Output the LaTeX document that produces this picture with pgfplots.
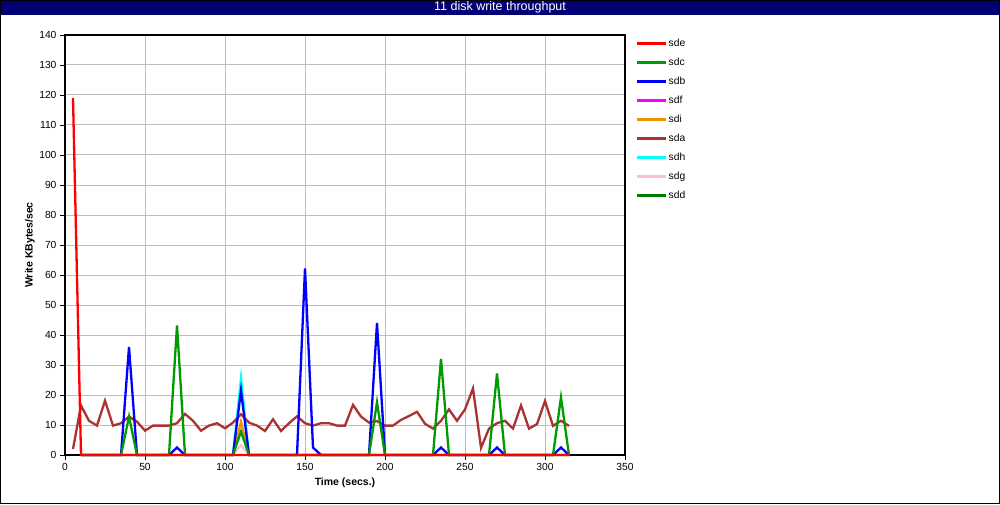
\documentclass[border=0pt]{standalone}
\usepackage{fontspec}
\setmainfont{Liberation Sans}
\usepackage{pgfplots}
\pgfplotsset{compat=1.18}
\definecolor{cSde}{RGB}{255,0,0}
\definecolor{cSdc}{RGB}{0,155,0}
\definecolor{cSdb}{RGB}{0,0,255}
\definecolor{cSdf}{RGB}{255,0,255}
\definecolor{cSdi}{RGB}{235,150,0}
\definecolor{cSda}{RGB}{170,50,50}
\definecolor{cSdh}{RGB}{0,255,255}
\definecolor{cSdg}{RGB}{255,192,203}
\definecolor{cSdd}{RGB}{0,125,0}
\definecolor{navybar}{RGB}{0,0,115}
\definecolor{gridgray}{RGB}{190,190,190}
\begin{document}
\begin{tikzpicture}[x=1pt,y=1pt]
\fill[white] (0,0) rectangle (1000,504);
\fill[navybar] (0,489) rectangle (1000,504);
\node[white, font=\fontsize{12.5}{14}\selectfont, anchor=center] at (500,496.5) {11 disk write throughput};
\begin{axis}[
  at={(65pt,49pt)}, anchor=south west,
  scale only axis, width=560pt, height=420pt,
  xmin=0, xmax=350, ymin=0, ymax=140,
  xtick={0,50,...,350}, ytick={0,10,...,140},
  tick align=outside, xtick pos=bottom, ytick pos=left,
  major tick length=5pt,
  tick style={black, line width=0.9pt},
  axis line style={black, line width=1.2pt},
  grid=major, major grid style={gridgray, line width=1pt},
  ticklabel style={font=\fontsize{10.3}{12}\selectfont},
  /pgf/number format/assume math mode=true,
  xlabel={Time (secs.)}, ylabel={Write KBytes/sec},
  every axis x label/.style={at={(axis description cs:0.5,-0.0667)}, anchor=center, font=\bfseries\fontsize{10.5}{12}\selectfont},
  every axis y label/.style={at={(axis description cs:-0.0625,0.5)}, rotate=90, anchor=center, font=\bfseries\fontsize{10.5}{12}\selectfont},
  clip=false,
  reverse legend,
  legend cell align=left,
  legend style={draw=none, fill=none, at={(axis description cs:1.0196,0.993)}, anchor=north west,
    font=\fontsize{10.3}{12}\selectfont, row sep=8pt, inner sep=0pt,
    nodes={text height=7pt, text depth=2pt, inner sep=1pt}},
  legend image code/.code={\draw[#1, line width=2.5pt] (0pt,0pt) -- (29pt,0pt);},
  every axis plot/.append style={line width=2.3pt, mark=none},
]
\addplot[cSdd] coordinates {(10,0)(315,0)};
\addplot[cSdg] coordinates {(10,0)(105,0)(110,3.3)(115,0)(315,0)};
\addplot[cSdh] coordinates {(10,0)(105,0)(110,25.6)(115,0)(315,0)};
\addplot[cSda] coordinates {(5,2)(10,16.5)(15,11.4)(20,9.8)(25,18.1)(30,9.8)(35,10.6)(40,12.8)(45,11.1)(50,8.1)(55,9.8)(60,9.8)(65,9.8)(70,10.6)(75,13.7)(80,11.4)(85,8.1)(90,9.8)(95,10.6)(100,8.9)(105,10.8)(110,13.6)(115,10.8)(120,9.8)(125,8)(130,11.9)(135,8)(140,10.6)(145,12.9)(150,10.6)(155,9.8)(160,10.6)(165,10.6)(170,9.8)(175,9.8)(180,16.7)(185,12.8)(190,10.8)(195,11.3)(200,9.8)(205,9.8)(210,11.7)(215,13)(220,14.4)(225,10.4)(230,8.8)(235,11.4)(240,15.2)(245,11.4)(250,15.2)(255,22.2)(260,2.4)(265,8.8)(270,10.6)(275,11.4)(280,8.8)(285,16.5)(290,8.8)(295,10.3)(300,18)(305,9.7)(310,11.4)(315,9.7)};
\addplot[cSdi] coordinates {(10,0)(105,0)(110,11.1)(115,0)(315,0)};
\addplot[cSdf] coordinates {(10,0)(315,0)};
\addplot[cSdb] coordinates {(10,0)(35,0)(40,36)(45,0)(65,0)(70,2.5)(75,0)(105,0)(110,21.5)(115,0)(145,0)(150,62.2)(155,2.5)(160,0)(190,0)(195,44)(200,0)(230,0)(235,2.5)(240,0)(265,0)(270,2.5)(275,0)(305,0)(310,2.5)(315,0)};
\addplot[cSdc] coordinates {(10,0)(35,0)(40,12.8)(45,0)(65,0)(70,43.2)(75,0)(105,0)(110,7.8)(115,0)(190,0)(195,17.6)(200,0)(230,0)(235,32)(240,0)(265,0)(270,27.2)(275,0)(305,0)(310,19.2)(315,0)};
\addplot[cSde] coordinates {(5,119)(10,0)(315,0)};
\legend{sdd,sdg,sdh,sda,sdi,sdf,sdb,sdc,sde}
\end{axis}
\draw[black, line width=1.2pt] (0.6,0.6) rectangle (999.4,503.4);
\pgfresetboundingbox
\useasboundingbox (0,0) rectangle (1000,504);
\end{tikzpicture}
\end{document}
